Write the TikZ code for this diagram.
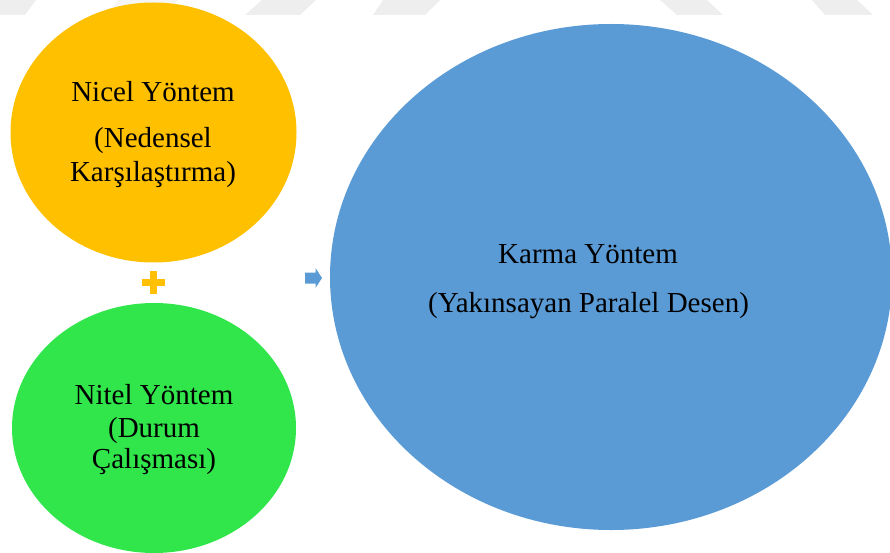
\documentclass[tikz,border=0pt]{standalone}
\usepackage{fontspec}
\setmainfont{Liberation Serif}
\usetikzlibrary{shapes.geometric}
\definecolor{goldfill}{HTML}{FFC000}
\definecolor{greenfill}{HTML}{30E64B}
\definecolor{bluefill}{HTML}{5B9BD5}
\definecolor{markgray}{HTML}{EEEEEE}
\begin{document}
\begin{tikzpicture}[x=1pt,y=-1pt,
  blob/.style={ellipse,inner sep=0pt,draw=none},
  lbl/.style={anchor=base,inner sep=0pt,font=\fontsize{29}{34}\selectfont,text=black},
  faint/.style={fill=markgray,draw=none}]
\useasboundingbox (0,0) rectangle (890,553);
% light band of slanted tiles along the top edge
\fill[faint] (0,0) -- (36,0) -- (25,15) -- (0,15) -- cycle;
\fill[fill=markgray!60] (118,0) -- (178,0) -- (168,12) -- (110,12) -- cycle;
\fill[faint] (262,0) -- (316,0) -- (300,15) -- (245,15) -- cycle;
\fill[faint] (383,0) -- (440,0) -- (425,15) -- (373,15) -- cycle;
\fill[faint] (660,0) -- (707,0) -- (723,15) -- (677,15) -- cycle;
\fill[faint] (812,0) -- (857,0) -- (873,15) -- (825,15) -- cycle;
% the three circles
\node[blob,fill=goldfill,minimum width=286pt,minimum height=260pt] (nicel) at (153.5,132.5) {};
\node[blob,fill=greenfill,minimum width=284pt,minimum height=250pt] (nitel) at (154,428) {};
\node[blob,fill=bluefill,minimum width=562pt,minimum height=506pt] (karma) at (611,277) {};
% plus sign between the two left circles
\coordinate (plus) at (153.5,282.5);
\fill[goldfill] ([xshift=-11.5pt,yshift=3.5pt]plus) rectangle ([xshift=11.5pt,yshift=-3.5pt]plus);
\fill[goldfill] ([xshift=-3.5pt,yshift=11.5pt]plus) rectangle ([xshift=3.5pt,yshift=-11.5pt]plus);
% small block arrow pointing to the mixed method
\coordinate (arr) at (305,278);
\fill[bluefill] (arr) ++(0,-5.5) -- ++(10.5,0) -- ++(0,-4.5) -- ++(6.5,10) -- ++(-6.5,10) -- ++(0,-4.5) -- ++(-10.5,0) -- cycle;
% texts
\node[lbl] (n1) at (153,102) {Nicel Yöntem};
\node[lbl] (n2) at (153,148) {(Nedensel};
\node[lbl] (n3) at (153,182) {Karşılaştırma)};
\node[lbl] (g1) at (154,404) {Nitel Yöntem};
\node[lbl] (g2) at (154,437) {(Durum};
\node[lbl] (g3) at (154,468) {Çalışması)};
\node[lbl] (k1) at (588,263) {Karma Yöntem};
\node[lbl] (k2) at (588.5,312) {(Yakınsayan Paralel Desen)};
\end{tikzpicture}
\end{document}
